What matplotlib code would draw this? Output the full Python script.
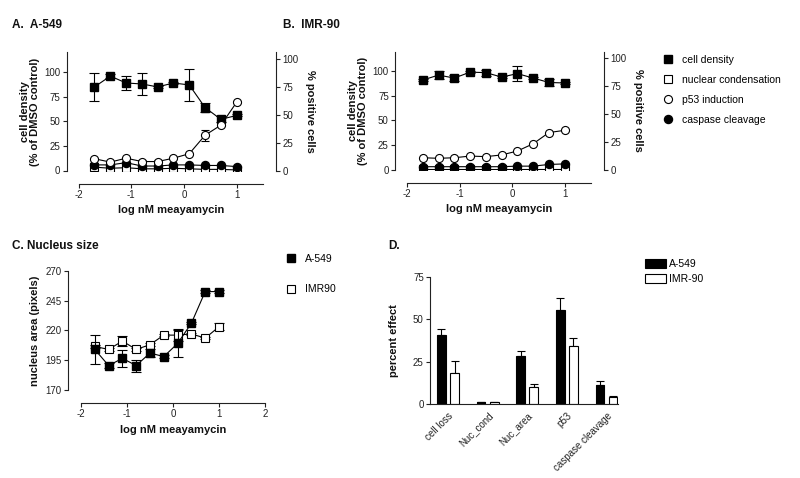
import matplotlib
matplotlib.use("Agg")
import matplotlib.pyplot as plt
from matplotlib.lines import Line2D
from matplotlib.patches import Patch
import numpy as np

plt.rcParams['font.family'] = ['Liberation Sans', 'DejaVu Sans']
plt.rcParams['font.size'] = 7
plt.rcParams['axes.unicode_minus'] = False

# ---------------- data ----------------
log_conc = [-1.7, -1.4, -1.1, -0.8, -0.5, -0.2, 0.1, 0.4, 0.7, 1.0]

a_density = [85, 96, 89, 88, 85, 89, 87, 64, 52, 56]
a_density_err = [14, 2, 7, 11, 1, 1, 16, 5, 3, 1]
a_nuccond = [3, 2, 2.5, 1.5, 1.5, 2, 1.5, 1, 1, 0.5]
a_p53 = [10.5, 7.5, 11, 8, 8, 11, 15, 31.5, 40.5, 61]
a_p53_err = [1, 1, 1, 1, 1, 1, 1, 5, 1, 1]
a_caspase = [5, 5, 7, 4, 4, 5, 5, 4.5, 4.5, 3.5]

b_density = [91, 96, 93, 99, 98.5, 94, 97.5, 93, 88.5, 88]
b_density_err = [1, 4, 3, 1, 3, 1, 8, 1, 4, 1]
b_nuccond = [0.5, 0.5, 0.5, 0.5, 0.5, 0.5, 0.5, 0.5, 0.5, 0.5]
b_p53 = [10.5, 10, 10.5, 12, 11.5, 13, 16.5, 23, 33, 35]
b_caspase = [2.5, 2.5, 2.5, 2.5, 2.5, 2.5, 3, 3, 4.5, 5]

c_a549 = [204, 190.5, 196.5, 190.5, 201, 198, 209, 226, 252.5, 252.5]
c_a549_err = [12, 2, 7, 5, 3, 1, 11.5, 1, 1, 1]
c_imr90 = [206.5, 204, 211, 204, 208, 216, 216, 217, 213.5, 223]
c_imr90_err = [1, 1, 4, 1, 1, 1, 5, 1, 1, 3]

d_categories = ["cell loss", "Nuc_cond", "Nuc_area", "p53", "caspase cleavage"]
d_a549 = [41, 1, 28.5, 55.5, 11]
d_a549_err = [3.3, 0.3, 2.7, 7, 2.4]
d_imr90 = [18.5, 1, 10, 34.5, 4]
d_imr90_err = [6.7, 0.3, 1.5, 4.5, 0.5]

# ---------------- helpers ----------------
W, H = 800, 478
fig = plt.figure(figsize=(8, 4.78), dpi=100)
PX = 0.72  # points per pixel at 100 dpi
LW = 0.8
MS = 5.8
TXT = '#111111'


def rect(x0, x1, ytop, ybot):
    return [x0 / W, 1 - ybot / H, (x1 - x0) / W, (ybot - ytop) / H]


def style(ax, left_off=12, bottom_off=13):
    ax.spines['top'].set_visible(False)
    ax.spines['right'].set_visible(False)
    ax.spines['left'].set_position(('outward', left_off * PX))
    ax.spines['bottom'].set_position(('outward', bottom_off * PX))
    for s in ('left', 'bottom'):
        ax.spines[s].set_linewidth(LW)
        ax.spines[s].set_color('#222222')
    ax.tick_params(direction='out', length=3, width=LW, labelsize=7,
                   colors='#222222', pad=1.5)
    ax.patch.set_visible(False)


def dose_panel(r, dens, dens_err, nuc, p53, p53_err, casp, title, tx):
    ax = fig.add_axes(r)
    style(ax)
    ax.set_xlim(-2, 1.5)
    ax.set_ylim(0, 120)
    ax.set_xticks([-2, -1, 0, 1])
    ax.set_yticks([0, 25, 50, 75, 100])
    ax2 = ax.twinx()
    ax2.set_ylim(0, 105.4)
    ax2.set_yticks([0, 25, 50, 75, 100])
    for s in ('top', 'left', 'bottom'):
        ax2.spines[s].set_visible(False)
    ax2.spines['right'].set_position(('outward', 13 * PX))
    ax2.spines['right'].set_linewidth(LW)
    ax2.spines['right'].set_color('#222222')
    ax2.tick_params(direction='out', length=3, width=LW, labelsize=7,
                    colors='#222222', pad=1.5)
    ax2.patch.set_visible(False)

    ax2.plot(log_conc, nuc, '-s', color='k', mfc='white', mec='k', ms=MS, lw=LW, mew=0.8, zorder=3)
    ax2.plot(log_conc, casp, '-o', color='k', mfc='k', mec='k', ms=MS, lw=LW, zorder=4)
    if p53_err is not None:
        ax2.errorbar(log_conc, p53, yerr=p53_err, fmt='none', ecolor='k', elinewidth=LW, capsize=3, capthick=LW, zorder=2)
    ax2.plot(log_conc, p53, '-o', color='k', mfc='white', mec='k', ms=MS, lw=LW, mew=0.8, zorder=5)
    ax.errorbar(log_conc, dens, yerr=dens_err, fmt='-s', color='k', mfc='k', mec='k', ms=MS, lw=LW,
                elinewidth=LW, capsize=3.5, capthick=LW, zorder=3)

    ax.set_xlabel('log nM meayamycin', fontsize=8, fontweight='bold', color=TXT, labelpad=4)
    ax.set_ylabel('cell density\n(% of DMSO control)', fontsize=8, fontweight='bold', color=TXT,
                  labelpad=3, linespacing=1.0)
    ax2.set_ylabel('% positive cells', fontsize=8, fontweight='bold', color=TXT, rotation=270,
                   labelpad=12)
    fig.text(tx / W, 1 - 25 / H, title, fontsize=8.5, fontweight='bold', color=TXT, va='center')
    return ax, ax2


dose_panel(rect(78.7, 263, 52.5, 170.5), a_density, a_density_err, a_nuccond, a_p53, a_p53_err,
           a_caspase, 'A.  A-549', 12)
dose_panel(rect(407, 591, 51.5, 169.5), b_density, b_density_err, b_nuccond, b_p53, None,
           b_caspase, 'B.  IMR-90', 283)

# legend for A/B
h_ab = [
    Line2D([], [], ls='none', marker='s', mfc='k', mec='k', ms=MS),
    Line2D([], [], ls='none', marker='s', mfc='white', mec='k', ms=MS, mew=0.8),
    Line2D([], [], ls='none', marker='o', mfc='white', mec='k', ms=MS, mew=0.8),
    Line2D([], [], ls='none', marker='o', mfc='k', mec='k', ms=MS),
]
fig.legend(h_ab, ['cell density', 'nuclear condensation', 'p53 induction', 'caspase cleavage'],
           loc='upper left', bbox_to_anchor=(662 / W, 1 - 55 / H), frameon=False,
           fontsize=7.5, handlelength=1.2, handletextpad=0.75, labelspacing=0.95,
           borderpad=0, borderaxespad=0)

# ---------------- panel C ----------------
axc = fig.add_axes(rect(81, 265, 270.7, 390))
style(axc, left_off=13, bottom_off=13)
axc.set_xlim(-2, 2)
axc.set_ylim(170, 270)
axc.set_xticks([-2, -1, 0, 1, 2])
axc.set_yticks([170, 195, 220, 245, 270])
axc.errorbar(log_conc, c_imr90, yerr=c_imr90_err, fmt='-s', color='k', mfc='white', mec='k', ms=MS,
             lw=LW, mew=0.8, elinewidth=LW, capsize=3.5, capthick=LW, zorder=3)
axc.errorbar(log_conc, c_a549, yerr=c_a549_err, fmt='-s', color='k', mfc='k', mec='k', ms=MS,
             lw=LW, elinewidth=LW, capsize=3.5, capthick=LW, zorder=4)
axc.set_xlabel('log nM meayamycin', fontsize=8, fontweight='bold', color=TXT, labelpad=4)
axc.set_ylabel('nucleus area (pixels)', fontsize=8, fontweight='bold', color=TXT, labelpad=4)
fig.text(12 / W, 1 - 246 / H, 'C. Nucleus size', fontsize=8.5, fontweight='bold', color=TXT, va='center')
h_c = [Line2D([], [], ls='none', marker='s', mfc='k', mec='k', ms=MS),
       Line2D([], [], ls='none', marker='s', mfc='white', mec='k', ms=MS, mew=0.8)]
fig.legend(h_c, ['A-549', 'IMR90'], loc='upper left', bbox_to_anchor=(285 / W, 1 - 254 / H),
           frameon=False, fontsize=7.5, handlelength=1.2, handletextpad=0.7, labelspacing=1.95,
           borderpad=0, borderaxespad=0)

# ---------------- panel D ----------------
axd = fig.add_axes(rect(430, 618, 277.3, 403.7))
axd.spines['top'].set_visible(False)
axd.spines['right'].set_visible(False)
for s in ('left', 'bottom'):
    axd.spines[s].set_linewidth(LW)
    axd.spines[s].set_color('#222222')
axd.patch.set_visible(False)
pos = np.arange(len(d_categories))
bw = 0.22
off = 0.165
axd.bar(pos - off, d_a549, width=bw, color='k', edgecolor='k', linewidth=LW, zorder=2)
axd.bar(pos + off, d_imr90, width=bw, color='white', edgecolor='k', linewidth=LW, zorder=2)
axd.errorbar(pos - off, d_a549, yerr=[np.zeros(len(d_a549)), d_a549_err], fmt='none', ecolor='k',
             elinewidth=LW, capsize=3, capthick=LW, zorder=1)
axd.errorbar(pos + off, d_imr90, yerr=[np.zeros(len(d_imr90)), d_imr90_err], fmt='none', ecolor='k',
             elinewidth=LW, capsize=3, capthick=LW, zorder=1)
axd.set_xlim(-0.455, 4.29)
axd.set_ylim(0, 75)
axd.set_yticks([0, 25, 50, 75])
axd.set_xticks(pos)
axd.set_xticklabels(d_categories, rotation=45, ha='right', rotation_mode='anchor')
axd.tick_params(axis='y', direction='out', length=3, width=LW, labelsize=7, colors='#222222', pad=1.5)
axd.tick_params(axis='x', length=0, labelsize=7, colors='#222222', pad=5)
axd.set_ylabel('percent effect', fontsize=8, fontweight='bold', color=TXT, labelpad=10)
fig.text(388 / W, 1 - 246 / H, 'D.', fontsize=8.5, fontweight='bold', color=TXT, va='center')
h_d = [Patch(facecolor='k', edgecolor='k', linewidth=LW),
       Patch(facecolor='white', edgecolor='k', linewidth=LW)]
fig.legend(h_d, ['A-549', 'IMR-90'], loc='upper left', bbox_to_anchor=(645 / W, 1 - 259 / H),
           frameon=False, fontsize=7.5, handlelength=2.0, handleheight=1.0, handletextpad=0.3,
           labelspacing=0.45, borderpad=0, borderaxespad=0)

fig.savefig('out.png', dpi=100)
